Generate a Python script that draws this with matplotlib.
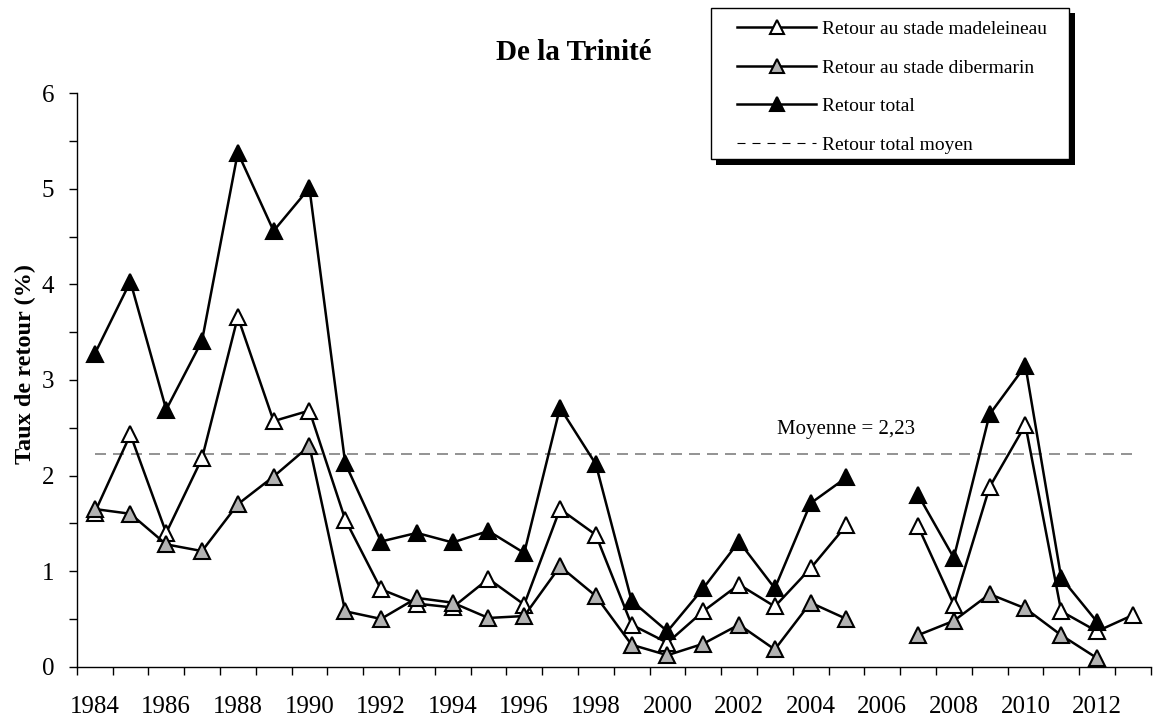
import numpy as np
import matplotlib

matplotlib.use("Agg")
import matplotlib.pyplot as plt
from matplotlib.patches import Rectangle

plt.rcParams["font.family"] = ["Liberation Serif", "DejaVu Serif"]

W, H, DPI = 1153, 721, 100

YEARS = list(range(1984, 2014))
NA = np.nan
# taux de retour (%) par annee de depart
MADELEINEAU = [1.61, 2.43, 1.40, 2.18, 3.66, 2.57, 2.68, 1.54, 0.81, 0.66,
               0.62, 0.92, 0.65, 1.65, 1.38, 0.44, 0.25, 0.58, 0.86, 0.63,
               1.03, 1.48, NA, 1.47, 0.65, 1.88, 2.53, 0.58, 0.37, 0.54]
DIBERMARIN = [1.65, 1.60, 1.28, 1.21, 1.70, 1.99, 2.31, 0.58, 0.50, 0.72,
              0.67, 0.51, 0.53, 1.05, 0.74, 0.23, 0.12, 0.24, 0.44, 0.18,
              0.67, 0.50, NA, 0.33, 0.48, 0.76, 0.61, 0.33, 0.09, NA]
TOTAL = [3.27, 4.03, 2.69, 3.41, 5.38, 4.56, 5.01, 2.13, 1.31, 1.40,
         1.30, 1.42, 1.19, 2.71, 2.12, 0.69, 0.37, 0.82, 1.31, 0.82,
         1.71, 1.98, NA, 1.80, 1.14, 2.64, 3.15, 0.93, 0.47, NA]
MEAN = 2.23
LABELS = ["Retour au stade madeleineau", "Retour au stade dibermarin",
          "Retour total", "Retour total moyen"]
TITLE = "De la Trinité"


def px(x, y):
    # pixel (from top-left) -> figure fraction
    return x / W, 1 - y / H


fig = plt.figure(figsize=(W / DPI, H / DPI), dpi=DPI)
left, top = px(76.7, 93.3)
right, bottom = px(1150.7, 666.7)
ax = fig.add_axes([left, bottom, right - left, top - bottom])

style = dict(color="black", lw=1.8, marker="^", markersize=11, markeredgewidth=1.5,
             markeredgecolor="black")
ax.plot(YEARS, MADELEINEAU, markerfacecolor="white", label=LABELS[0], **style)
ax.plot(YEARS, DIBERMARIN, markerfacecolor="#b3b3b3", label=LABELS[1], **style)
ax.plot(YEARS, TOTAL, markerfacecolor="black", label=LABELS[2], **style)
ax.hlines(MEAN, YEARS[0], YEARS[-1], colors="#808080", lw=1.2, linestyles=(0, (6.6, 4.2)), zorder=1)
ax.text(2005, MEAN + 0.25, f"Moyenne = {MEAN:.2f}".replace(".", ","), ha="center", va="center",
        fontsize=15)

ax.set_xlim(YEARS[0] - 0.5, YEARS[-1] + 0.5)
ax.set_ylim(0, 6)
ax.set_xticks(np.arange(YEARS[0] - 0.5, YEARS[-1] + 1, 1))
ax.set_xticklabels([])
ax.set_xticks(YEARS[::2], minor=True)
ax.set_xticklabels([str(y) for y in YEARS[::2]], minor=True, fontsize=18)
ax.tick_params(axis="x", which="major", direction="out", length=6, width=1)
ax.tick_params(axis="x", which="minor", length=0, pad=21)
ax.set_yticks(range(0, 7))
ax.set_yticks(np.arange(0.5, 6, 1), minor=True)
ax.tick_params(axis="y", which="both", direction="out", length=6, width=1, labelsize=18, pad=10)
for side in ("top", "right"):
    ax.spines[side].set_visible(False)
for side in ("left", "bottom"):
    ax.spines[side].set_linewidth(1)

ax.set_ylabel("Taux de retour (%)", fontsize=17.5, fontweight="bold", va="center")
ax.yaxis.set_label_coords((25 - 76.7) / (1150.7 - 76.7), (666.7 - 364) / (666.7 - 93.3))

fig.text(*px(574, 52), TITLE, ha="center", va="center", fontsize=21, fontweight="bold")

# legend box with a hard black shadow
bx0, by0 = px(710.7, 159.3)
bx1, by1 = px(1069, 7.7)
fig.add_artist(Rectangle((bx0 + 5.7 / W, by0 - 5.7 / H), bx1 - bx0, by1 - by0,
                         transform=fig.transFigure, fc="black", ec="none", zorder=5))
fig.add_artist(Rectangle((bx0, by0), bx1 - bx0, by1 - by0, transform=fig.transFigure,
                         fc="white", ec="black", lw=1, zorder=6))
handles, _ = ax.get_legend_handles_labels()
mean_handle = plt.Line2D([], [], color="black", lw=0.8, linestyle=(0, (7.2, 6.3)))
leg = fig.legend(handles + [mean_handle], LABELS, loc="upper left",
                 bbox_to_anchor=px(736.7, 20.4), bbox_transform=fig.transFigure,
                 frameon=False, borderpad=0, borderaxespad=0, handlelength=4.1,
                 handletextpad=0.3, labelspacing=1.08, fontsize=14, markerscale=0.9)
leg.set_zorder(7)

fig.savefig("out.png", dpi=DPI)
